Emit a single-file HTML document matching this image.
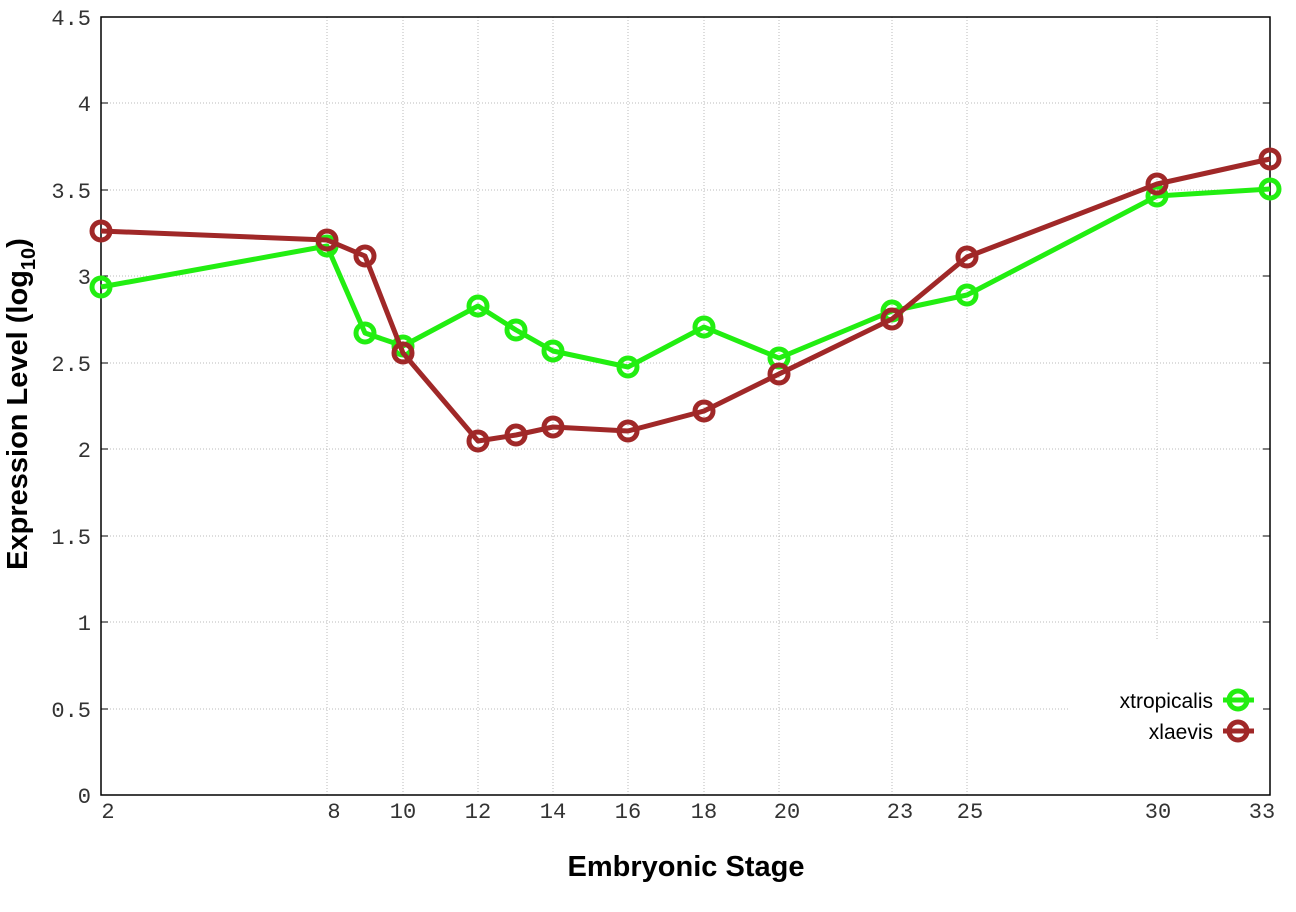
<!DOCTYPE html>
<html><head><style>body{margin:0;background:#fff}</style></head><body>
<svg width="1296" height="907" xmlns="http://www.w3.org/2000/svg" font-family="Liberation Mono, monospace">
<rect width="1296" height="907" fill="#fff"/>
<g stroke="#bbb" stroke-width="1" stroke-dasharray="1,2">
<line x1="101" x2="1270" y1="103" y2="103"/><line x1="101" x2="1270" y1="190" y2="190"/>
<line x1="101" x2="1270" y1="276" y2="276"/><line x1="101" x2="1270" y1="363" y2="363"/>
<line x1="101" x2="1270" y1="449" y2="449"/><line x1="101" x2="1270" y1="536" y2="536"/>
<line x1="101" x2="1270" y1="622" y2="622"/><line x1="101" x2="1070" y1="709" y2="709"/>
<line x1="327" x2="327" y1="17" y2="795"/><line x1="403" x2="403" y1="17" y2="795"/>
<line x1="478" x2="478" y1="17" y2="795"/><line x1="553" x2="553" y1="17" y2="795"/>
<line x1="628" x2="628" y1="17" y2="795"/><line x1="704" x2="704" y1="17" y2="795"/>
<line x1="779" x2="779" y1="17" y2="795"/><line x1="892" x2="892" y1="17" y2="795"/>
<line x1="967" x2="967" y1="17" y2="795"/><line x1="1157" x2="1157" y1="17" y2="640"/>
</g>
<rect x="101" y="17" width="1169" height="778" fill="none" stroke="#000" stroke-width="1.5"/>
<g stroke="#000" stroke-width="1">
<line x1="101" x2="108" y1="103" y2="103"/><line x1="101" x2="108" y1="190" y2="190"/><line x1="101" x2="108" y1="276" y2="276"/><line x1="101" x2="108" y1="363" y2="363"/><line x1="101" x2="108" y1="449" y2="449"/><line x1="101" x2="108" y1="536" y2="536"/><line x1="101" x2="108" y1="622" y2="622"/><line x1="101" x2="108" y1="709" y2="709"/>
<line x1="1263" x2="1270" y1="103" y2="103"/><line x1="1263" x2="1270" y1="190" y2="190"/><line x1="1263" x2="1270" y1="276" y2="276"/><line x1="1263" x2="1270" y1="363" y2="363"/><line x1="1263" x2="1270" y1="449" y2="449"/><line x1="1263" x2="1270" y1="536" y2="536"/><line x1="1263" x2="1270" y1="622" y2="622"/><line x1="1263" x2="1270" y1="709" y2="709"/>
</g>
<g font-size="22" fill="#333" text-anchor="end">
<text x="91" y="25">4.5</text><text x="91" y="111">4</text><text x="91" y="198">3.5</text><text x="91" y="284">3</text><text x="91" y="371">2.5</text><text x="91" y="457">2</text><text x="91" y="544">1.5</text><text x="91" y="630">1</text><text x="91" y="717">0.5</text><text x="91" y="803">0</text>
</g>
<g font-size="22" fill="#333" text-anchor="middle">
<text x="108" y="818">2</text><text x="334" y="818">8</text><text x="403" y="818">10</text><text x="478" y="818">12</text><text x="553" y="818">14</text><text x="628" y="818">16</text><text x="704" y="818">18</text><text x="787" y="818">20</text><text x="900" y="818">23</text><text x="970" y="818">25</text><text x="1158" y="818">30</text><text x="1262" y="818">33</text>
</g>
<text x="686" y="876" font-family="Liberation Sans, sans-serif" font-weight="bold" font-size="29" text-anchor="middle">Embryonic Stage</text>
<text transform="translate(27,404) rotate(-90)" font-family="Liberation Sans, sans-serif" font-weight="bold" font-size="29" text-anchor="middle">Expression Level (log<tspan font-size="20" dy="8">10</tspan><tspan dy="-8">)</tspan></text>
<g fill="none" stroke-width="5" stroke-linejoin="round">
<polyline stroke="#22ee11" points="101,287 327,246 365,333 403,346 478,306 516,330 553,351 628,367 704,327 779,358 892,311 967,295 1157,196 1270,189"/>
<g stroke="#22ee11">
<circle cx="101" cy="287" r="9"/><circle cx="327" cy="246" r="9"/><circle cx="365" cy="333" r="9"/><circle cx="403" cy="346" r="9"/><circle cx="478" cy="306" r="9"/><circle cx="516" cy="330" r="9"/><circle cx="553" cy="351" r="9"/><circle cx="628" cy="367" r="9"/><circle cx="704" cy="327" r="9"/><circle cx="779" cy="358" r="9"/><circle cx="892" cy="311" r="9"/><circle cx="967" cy="295" r="9"/><circle cx="1157" cy="196" r="9"/><circle cx="1270" cy="189" r="9"/>
</g>
<polyline stroke="#a02828" points="101,231 327,240 365,256 403,353 478,441 516,435 553,427 628,431 704,411 779,374 892,319 967,257 1157,184 1270,159"/>
<g stroke="#a02828">
<circle cx="101" cy="231" r="9"/><circle cx="327" cy="240" r="9"/><circle cx="365" cy="256" r="9"/><circle cx="403" cy="353" r="9"/><circle cx="478" cy="441" r="9"/><circle cx="516" cy="435" r="9"/><circle cx="553" cy="427" r="9"/><circle cx="628" cy="431" r="9"/><circle cx="704" cy="411" r="9"/><circle cx="779" cy="374" r="9"/><circle cx="892" cy="319" r="9"/><circle cx="967" cy="257" r="9"/><circle cx="1157" cy="184" r="9"/><circle cx="1270" cy="159" r="9"/>
</g>
<line x1="1223" x2="1254" y1="700" y2="700" stroke="#22ee11"/><circle cx="1238" cy="700" r="9" stroke="#22ee11"/>
<line x1="1223" x2="1254" y1="731" y2="731" stroke="#a02828"/><circle cx="1238" cy="731" r="9" stroke="#a02828"/>
</g>
<g font-family="Liberation Sans, sans-serif" font-size="21" text-anchor="end" fill="#000">
<text x="1213" y="708">xtropicalis</text><text x="1213" y="739">xlaevis</text>
</g>
</svg>
</body></html>
